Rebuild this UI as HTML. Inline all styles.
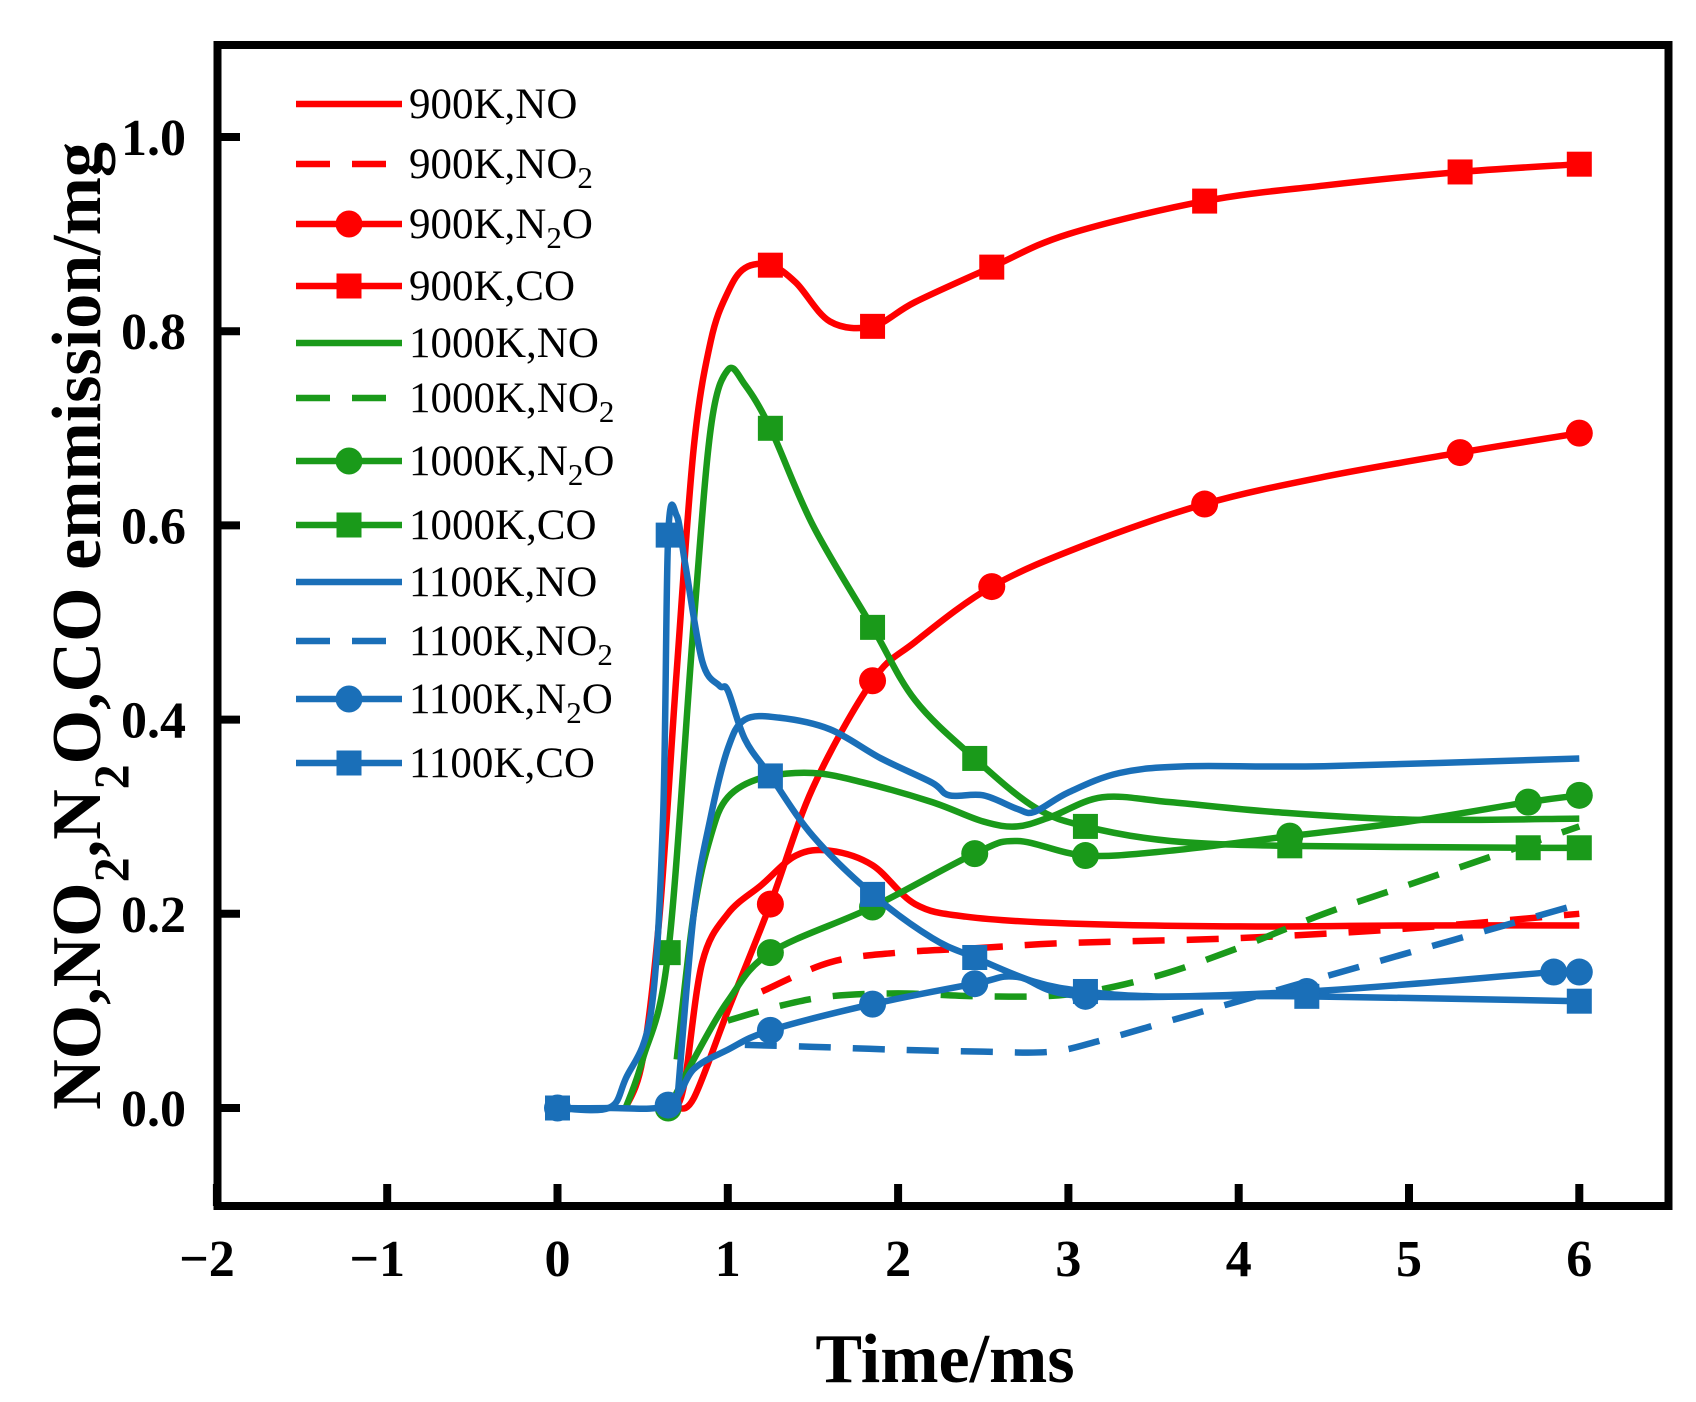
<!DOCTYPE html>
<html><head><meta charset="utf-8"><style>
html,body{margin:0;padding:0;background:#fff;}
svg{display:block;}
text{font-family:"Liberation Serif",serif;}
</style></head><body>
<svg id="chart" width="1696" height="1402" viewBox="0 0 1696 1402" xmlns="http://www.w3.org/2000/svg">
<g id="plot"></g>
<g id="axes"></g>
<g id="legend"></g>
<text x="945" y="1382" text-anchor="middle" font-size="70" font-weight="bold">Time/ms</text>
<text transform="translate(100,626) rotate(-90)" text-anchor="middle" font-size="70" font-weight="bold">NO,NO<tspan baseline-shift="sub" font-size="50">2</tspan>,N<tspan baseline-shift="sub" font-size="50">2</tspan>O,CO emmission/mg</text>
</svg>
<script>
const xTicks=[-2,-1,0,1,2,3,4,5,6];
const yTicks=[0.0,0.2,0.4,0.6,0.8,1.0];
const yTickLabels=["0.0","0.2","0.4","0.6","0.8","1.0"];
const RED="#ff0000",GREEN="#1a9a1a",BLUE="#1a6fb8";
const no900=[[0.7,0],[0.75,0.03],[0.85,0.15],[1.0,0.2],[1.2,0.23],[1.4,0.26],[1.6,0.265],[1.85,0.25],[2.1,0.21],[2.4,0.197],[3,0.19],[4,0.187],[5,0.188],[6,0.188]];
const no2_900=[[1.2,0.12],[1.6,0.15],[2,0.16],[2.5,0.165],[3,0.17],[4,0.175],[5,0.185],[6,0.2]];
const n2o900=[[0.7,0],[0.8,0.01],[1.0,0.1],[1.25,0.21],[1.5,0.33],[1.85,0.44],[2.1,0.48],[2.55,0.537],[3.1,0.58],[3.8,0.622],[4.5,0.65],[5.3,0.675],[6,0.695]];
const n2o900M=[[1.25,0.21],[1.85,0.44],[2.55,0.537],[3.8,0.622],[5.3,0.675],[6,0.695]];
const co900=[[0.4,0],[0.5,0.05],[0.6,0.2],[0.7,0.45],[0.8,0.68],[0.9,0.79],[1.0,0.84],[1.1,0.865],[1.25,0.868],[1.4,0.85],[1.6,0.81],[1.85,0.805],[2.1,0.83],[2.55,0.866],[3,0.9],[3.8,0.934],[4.5,0.95],[5.3,0.964],[6,0.972]];
const co900M=[[1.25,0.868],[1.85,0.805],[2.55,0.866],[3.8,0.934],[5.3,0.964],[6,0.972]];
const no1000=[[0.7,0.05],[0.8,0.2],[0.9,0.28],[1.0,0.32],[1.2,0.34],[1.5,0.345],[1.8,0.335],[2.2,0.315],[2.5,0.295],[2.7,0.29],[2.9,0.3],[3.2,0.32],[3.6,0.315],[4.2,0.305],[5,0.297],[6,0.298]];
const no2_1000=[[1.0,0.09],[1.3,0.105],[1.6,0.115],[2,0.118],[2.5,0.115],[3,0.117],[3.5,0.135],[4,0.165],[4.5,0.2],[5,0.23],[5.5,0.26],[6,0.29]];
const n2o1000=[[0.6,0],[0.65,0],[0.8,0.05],[1.0,0.11],[1.25,0.16],[1.85,0.207],[2.45,0.262],[2.7,0.275],[3.1,0.26],[3.6,0.265],[4.3,0.28],[5.0,0.295],[5.7,0.315],[6,0.322]];
const n2o1000M=[[0.65,0],[1.25,0.16],[1.85,0.207],[2.45,0.262],[3.1,0.26],[4.3,0.28],[5.7,0.315],[6,0.322]];
const co1000=[[0.4,0],[0.5,0.05],[0.65,0.16],[0.8,0.5],[0.9,0.7],[1.0,0.76],[1.1,0.745],[1.25,0.70],[1.5,0.6],[1.85,0.495],[2.1,0.42],[2.45,0.36],[2.8,0.31],[3.1,0.29],[3.6,0.275],[4.3,0.27],[5.7,0.268],[6,0.268]];
const co1000M=[[0.65,0.16],[1.25,0.70],[1.85,0.495],[2.45,0.36],[3.1,0.29],[4.3,0.27],[5.7,0.268],[6,0.268]];
const no1100=[[0.7,0],[0.8,0.2],[0.9,0.3],[1.0,0.37],[1.1,0.40],[1.3,0.402],[1.6,0.39],[1.9,0.36],[2.2,0.335],[2.3,0.322],[2.5,0.322],[2.7,0.308],[2.8,0.305],[3.0,0.325],[3.3,0.345],[3.7,0.352],[4.5,0.352],[6,0.36]];
const no2_1100=[[1.1,0.065],[1.5,0.063],[2,0.06],[2.5,0.058],[2.9,0.058],[3.2,0.07],[3.6,0.09],[4,0.11],[4.5,0.135],[5,0.16],[5.5,0.185],[6,0.21]];
const n2o1100=[[0,0],[0.3,0],[0.65,0.003],[0.8,0.04],[1.0,0.06],[1.25,0.08],[1.85,0.107],[2.45,0.128],[2.7,0.135],[3.1,0.115],[4.4,0.12],[5.85,0.14],[6,0.14]];
const n2o1100M=[[0,0],[0.65,0.003],[1.25,0.08],[1.85,0.107],[2.45,0.128],[3.1,0.115],[4.4,0.12],[5.85,0.14],[6,0.14]];
const co1100=[[0,0],[0.3,0],[0.4,0.03],[0.55,0.1],[0.62,0.3],[0.65,0.59],[0.7,0.61],[0.75,0.56],[0.85,0.46],[0.95,0.435],[1.0,0.43],[1.1,0.38],[1.25,0.342],[1.5,0.28],[1.85,0.22],[2.2,0.175],[2.45,0.155],[2.8,0.13],[3.1,0.12],[3.5,0.115],[4.4,0.115],[6,0.11]];
const co1100M=[[0,0],[0.65,0.59],[1.25,0.342],[1.85,0.22],[2.45,0.155],[3.1,0.12],[4.4,0.115],[6,0.11]];
const legendLabels=["900K,NO","900K,NO|2","900K,N|2|O","900K,CO","1000K,NO","1000K,NO|2","1000K,N|2|O","1000K,CO","1100K,NO","1100K,NO|2","1100K,N|2|O","1100K,CO"];

const X0=557.5,XS=170.3,Y0=1108,YS=971;
const sx=v=>X0+v*XS, sy=v=>Y0-v*YS;
const NS="http://www.w3.org/2000/svg";
function mk(tag,attrs,parent){const e=document.createElementNS(NS,tag);for(const k in attrs)e.setAttribute(k,attrs[k]);parent.appendChild(e);return e;}
function pathD(pts){
  const p=pts.map(d=>[sx(d[0]),sy(d[1])]);
  let d="M"+p[0][0]+","+p[0][1];
  for(let i=0;i<p.length-1;i++){
    const p0=p[i-1]||p[i],p1=p[i],p2=p[i+1],p3=p[i+2]||p2;
    const c1=[p1[0]+(p2[0]-p0[0])/6,p1[1]+(p2[1]-p0[1])/6];
    const c2=[p2[0]-(p3[0]-p1[0])/6,p2[1]-(p3[1]-p1[1])/6];
    d+=" C"+c1[0]+","+c1[1]+" "+c2[0]+","+c2[1]+" "+p2[0]+","+p2[1];
  }
  return d;
}
const plot=document.getElementById('plot');
const series=[
 {name:"900k-no",d:no900,c:RED,dash:false},
 {name:"900k-no2",d:no2_900,c:RED,dash:true},
 {name:"900k-n2o",d:n2o900,c:RED,m:n2o900M,mt:"circle"},
 {name:"900k-co",d:co900,c:RED,m:co900M,mt:"square"},
 {name:"1000k-no",d:no1000,c:GREEN},
 {name:"1000k-no2",d:no2_1000,c:GREEN,dash:true},
 {name:"1000k-n2o",d:n2o1000,c:GREEN,m:n2o1000M,mt:"circle"},
 {name:"1000k-co",d:co1000,c:GREEN,m:co1000M,mt:"square"},
 {name:"1100k-no",d:no1100,c:BLUE},
 {name:"1100k-no2",d:no2_1100,c:BLUE,dash:true},
 {name:"1100k-n2o",d:n2o1100,c:BLUE,m:n2o1100M,mt:"circle"},
 {name:"1100k-co",d:co1100,c:BLUE,m:co1100M,mt:"square"}
];
function marker(type,x,y,c,parent){
  let e;
  if(type==="circle") e=mk('circle',{cx:x,cy:y,r:13.5,fill:c},parent);
  else e=mk('rect',{x:x-12.5,y:y-12.5,width:25,height:25,fill:c},parent);
  return e;
}
series.forEach(s=>{
  const g=mk('g',{},plot);
  
  
  const p=mk('path',{d:pathD(s.d),fill:"none",stroke:s.c,"stroke-width":6.5,"stroke-linejoin":"round"},g);
  if(s.dash)p.setAttribute('stroke-dasharray','32,22');
  
  
  if(s.m) s.m.forEach(pt=>{
    const e=marker(s.mt,sx(pt[0]),sy(pt[1]),s.c,g);
    
    
  });
});
const ax=document.getElementById('axes');
const fr=mk('rect',{x:217.5,y:45,width:1451,height:1161,fill:"none",stroke:"#000","stroke-width":8},ax);


xTicks.forEach(v=>{
  const t=mk('line',{x1:sx(v),x2:sx(v),y1:1206,y2:1184,stroke:"#000","stroke-width":8},ax);
  
  
  const l=mk('text',{x:sx(v)-(v<0?10:0),y:1276,"text-anchor":"middle","font-size":52,"font-weight":"bold"},ax);
  l.textContent=(v<0?"\u2212":"")+Math.abs(v);
  
  
});
yTicks.forEach((v,i)=>{
  const t=mk('line',{x1:217.5,x2:240,y1:sy(v),y2:sy(v),stroke:"#000","stroke-width":8},ax);
  
  
  const l=mk('text',{x:186,y:sy(v)+18,"text-anchor":"end","font-size":52,"font-weight":"bold"},ax);
  l.textContent=yTickLabels[i];
  
  
});
const lg=document.getElementById('legend');
const legY=[104,164,224,286,343,398,461,525,582,641,699,763];
legendLabels.forEach((lab,i)=>{
  const s=series[i];
  const g=mk('g',{},lg);
  
  
  const y=legY[i];
  const ln=mk('line',{x1:296,x2:402,y1:y,y2:y,stroke:s.c,"stroke-width":6.5},g);
  if(s.dash)ln.setAttribute('stroke-dasharray','34,22');
  if(s.mt) marker(s.mt,349,y,s.c,g);
  const t=mk('text',{x:409,y:y+14,"font-size":43},g);
  const parts=lab.split('|');
  parts.forEach((p,j)=>{
    const ts=mk('tspan',{},t);
    ts.textContent=p;
    if(j===1&&parts.length>1){ts.setAttribute('dy','10');ts.setAttribute('font-size','31');}
    if(j===2){ts.setAttribute('dy','-10');}
  });
});
</script>
</body></html>
